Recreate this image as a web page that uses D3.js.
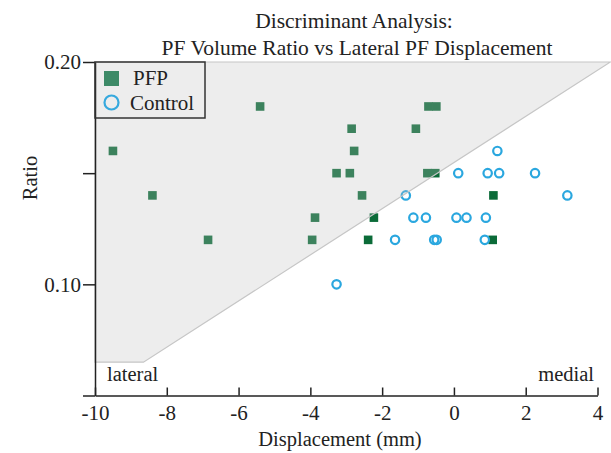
<!DOCTYPE html>
<html lang="en">
<head>
  <meta charset="utf-8">
  <title>Discriminant Analysis</title>
  <script src="https://cdn.jsdelivr.net/npm/d3@7/dist/d3.min.js"></script>
  <style>
    body { margin: 0; background: #fff; }
    svg text { font-family: "Liberation Serif", "Times New Roman", serif; fill: #222; }
  </style>
</head>
<body>
  <script>
    // PFP group (squares)
    var pfpX = [-9.5, -8.4, -6.85, -5.4, -3.95, -3.87, -3.27, -2.9, -2.85, -2.78, -2.56, -1.06, -0.71, -0.49, -0.74, -0.52, -2.23, -2.39, 1.10, 1.08];
    var pfpY = [0.16, 0.14, 0.12, 0.18, 0.12, 0.13, 0.15, 0.15, 0.17, 0.16, 0.14, 0.17, 0.18, 0.18, 0.15, 0.15, 0.13, 0.12, 0.14, 0.12];

    // Control group (circles)
    var ctlX = [1.21, 0.12, 0.94, 1.26, 2.26, -1.34, 3.16, -1.13, -0.78, 0.07, 0.35, 0.89, -1.64, -0.55, -0.48, 0.86, -3.27];
    var ctlY = [0.16, 0.15, 0.15, 0.15, 0.15, 0.14, 0.14, 0.13, 0.13, 0.13, 0.13, 0.13, 0.12, 0.12, 0.12, 0.12, 0.10];

    // PFP classification region
    var regionX = [-10, 4.36, -8.65, -10];
    var regionY = [0.20, 0.20, 0.065, 0.065];

    var xTicks = [-10, -8, -6, -4, -2, 0, 2, 4];
    var yTicks = [0.05, 0.10, 0.15, 0.20];
    var yLabels = ["", "0.10", "", "0.20"];

    var width = 611, height = 453;

    var svg = d3.select("body").append("svg")
      .attr("width", width)
      .attr("height", height);

    var x = d3.scaleLinear().domain([-10, 4]).range([95, 597.5]);
    var y = d3.scaleLinear().domain([0.05, 0.20]).range([395.5, 62]);

    var green = "#0b6b38";
    var blue = "#2aa7df";

    // points
    var pfp = pfpX.map(function(d, i) { return [d, pfpY[i]]; });
    var ctl = ctlX.map(function(d, i) { return [d, ctlY[i]]; });

    svg.append("g").selectAll("rect")
      .data(pfp)
      .enter().append("rect")
      .attr("x", function(d) { return x(d[0]) - 4.3; })
      .attr("y", function(d) { return y(d[1]) - 4.3; })
      .attr("width", 8.6)
      .attr("height", 8.6)
      .attr("fill", green);

    svg.append("g").selectAll("circle")
      .data(ctl)
      .enter().append("circle")
      .attr("cx", function(d) { return x(d[0]); })
      .attr("cy", function(d) { return y(d[1]); })
      .attr("r", 4.2)
      .attr("fill", "none")
      .attr("stroke", blue)
      .attr("stroke-width", 2.2);

    // shaded region on top of the points
    var region = regionX.map(function(d, i) { return [x(d), y(regionY[i])]; });
    svg.append("path")
      .attr("d", "M" + region.join("L") + "Z")
      .attr("fill", "#bdbdbd")
      .attr("fill-opacity", 0.28)
      .attr("stroke", "#c6c6c6")
      .attr("stroke-width", 1.2);

    // axes
    var yAxis = svg.append("g")
      .attr("transform", "translate(" + x(-10) + ",0)")
      .call(d3.axisLeft(y).tickValues(yTicks).tickSize(12).tickSizeOuter(0)
        .tickFormat(function(d, i) { return yLabels[i]; }));
    yAxis.selectAll("path, line").attr("stroke", "#222").attr("stroke-width", 1.5);
    yAxis.selectAll("text").attr("font-size", 21).attr("font-family", "Liberation Serif").attr("fill", "#222").attr("x", -14);

    var xAxis = svg.append("g")
      .attr("transform", "translate(0," + y(0.05) + ")")
      .call(d3.axisBottom(x).tickValues(xTicks).tickSize(-8).tickSizeOuter(0)
        .tickFormat(function(d) { return String(d); }));
    xAxis.selectAll("path, line").attr("stroke", "#222").attr("stroke-width", 1.5);
    xAxis.selectAll("text").attr("font-size", 21).attr("font-family", "Liberation Serif").attr("fill", "#222").attr("y", 10);

    // titles
    svg.append("text").attr("x", 354).attr("y", 28).attr("text-anchor", "middle")
      .attr("font-size", 21.5).text("Discriminant Analysis:");
    svg.append("text").attr("x", 357).attr("y", 55).attr("text-anchor", "middle")
      .attr("font-size", 21.5).text("PF Volume Ratio vs Lateral PF Displacement");

    svg.append("text").attr("x", 340).attr("y", 446).attr("text-anchor", "middle")
      .attr("font-size", 20.5).text("Displacement (mm)");
    svg.append("text").attr("transform", "translate(37,178) rotate(-90)").attr("text-anchor", "middle")
      .attr("font-size", 20.5).text("Ratio");

    svg.append("text").attr("x", 107).attr("y", 381).attr("font-size", 20.5).text("lateral");
    svg.append("text").attr("x", 594).attr("y", 381).attr("text-anchor", "end").attr("font-size", 20.5).text("medial");

    // legend
    var legend = svg.append("g");
    legend.append("rect")
      .attr("x", 95).attr("y", 62).attr("width", 110).attr("height", 56)
      .attr("fill", "none").attr("stroke", "#333").attr("stroke-width", 1.5);
    legend.append("rect")
      .attr("x", 104).attr("y", 71).attr("width", 15).attr("height", 15)
      .attr("fill", "#3d8a67");
    legend.append("text").attr("x", 133).attr("y", 85).attr("font-size", 21).text("PFP");
    legend.append("circle")
      .attr("cx", 111.5).attr("cy", 102.5).attr("r", 7)
      .attr("fill", "none").attr("stroke", "#36a9de").attr("stroke-width", 2.2);
    legend.append("text").attr("x", 130).attr("y", 110).attr("font-size", 21).text("Control");
  </script>
</body>
</html>
